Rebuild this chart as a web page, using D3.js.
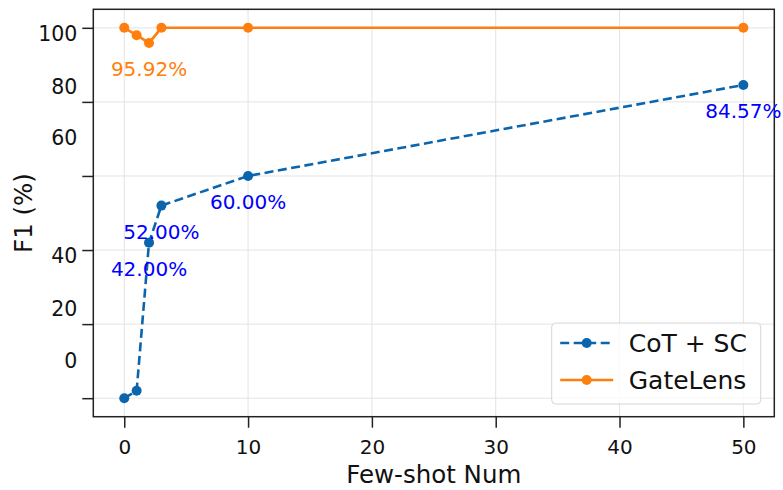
<!DOCTYPE html>
<html>
<head>
<meta charset="utf-8">
<script src="https://cdn.jsdelivr.net/npm/d3@7"></script>
<style>
	body { margin: 0; background: #fff; }
	text { font-family: "DejaVu Sans", sans-serif; }
</style>
</head>
<body>
<div id="f1-chart"></div>
<script>
// x positions (few-shot count)
const fewShot = [0, 1, 2, 3, 10, 50];
// series values, F1 %
const cotSc = [0, 2.0, 42.0, 52.0, 60.0, 84.57];
const gateLens = [100, 98.0, 95.92, 100, 100, 100];
// which points get a text label (index into fewShot)
const cotLabelIdx = [2, 3, 4, 5];
const gateLabelIdx = [2];
const xTicks = [0, 10, 20, 30, 40, 50];
const yTicks = [0, 20, 40, 60, 80, 100];
const yTickLabels = ['0', '20', '40', '60', '80', '100'];

const width = 783, height = 490;
const margin = { top: 9.3, right: 8.7, bottom: 73.3, left: 93.3 };
const innerW = width - margin.left - margin.right;
const innerH = height - margin.top - margin.bottom;

const blue = '#0b65ad', orange = '#ff7f0e';

const svg = d3.select('#f1-chart').append('svg')
	.attr('width', width)
	.attr('height', height);

const g = svg.append('g')
	.attr('transform', `translate(${margin.left},${margin.top})`);

const x = d3.scaleLinear().domain([-2.5, 52.5]).range([0, innerW]);
const y = d3.scaleLinear().domain([-5, 105]).range([innerH, 0]);

// grid
g.append('g').selectAll('line')
	.data(xTicks).enter().append('line')
	.attr('x1', d => x(d)).attr('x2', d => x(d))
	.attr('y1', 0).attr('y2', innerH)
	.attr('stroke', '#e3e3e3').attr('stroke-width', 1);
g.append('g').selectAll('line')
	.data(yTicks).enter().append('line')
	.attr('y1', d => y(d)).attr('y2', d => y(d))
	.attr('x1', 0).attr('x2', innerW)
	.attr('stroke', '#e3e3e3').attr('stroke-width', 1);

// x axis
const xAxis = g.append('g')
	.attr('transform', `translate(0,${innerH})`)
	.call(d3.axisBottom(x).tickValues(xTicks).tickSize(11).tickPadding(12).tickFormat(d3.format('d')));
xAxis.select('.domain').remove();
xAxis.selectAll('line').attr('stroke', '#222').attr('stroke-width', 1.5);
xAxis.selectAll('text').attr('font-size', 20).attr('fill', '#111');

// y axis - labels sit offset from their ticks in the original figure
const labelShift = [-31, -8.5, 12.5];
const yAxis = g.append('g')
	.call(d3.axisLeft(y).tickValues(yTicks).tickSize(11).tickPadding(5)
		.tickFormat((d, i) => yTickLabels[i]));
yAxis.select('.domain').remove();
yAxis.selectAll('line').attr('stroke', '#222').attr('stroke-width', 1.5);
yAxis.selectAll('text')
	.attr('font-size', 20.5).attr('fill', '#111')
	.attr('dy', (d, i) => labelShift[i % 3] + 'px');

// frame
g.append('rect')
	.attr('width', innerW).attr('height', innerH)
	.attr('fill', 'none').attr('stroke', '#222').attr('stroke-width', 1.5);

const line = d3.line().x((d, i) => x(fewShot[i])).y(d => y(d));

function drawSeries(vals, color, dash) {
	g.append('path')
		.datum(vals)
		.attr('d', line)
		.attr('fill', 'none')
		.attr('stroke', color)
		.attr('stroke-width', 2.6)
		.attr('stroke-dasharray', dash);
	g.append('g').selectAll('circle')
		.data(vals).enter().append('circle')
		.attr('cx', (d, i) => x(fewShot[i]))
		.attr('cy', d => y(d))
		.attr('r', 5)
		.attr('fill', color);
}

drawSeries(cotSc, blue, '9,4.5');
drawSeries(gateLens, orange, null);

// point labels
function pointLabels(vals, idx, color) {
	g.append('g').selectAll('text')
		.data(idx).enter().append('text')
		.attr('x', i => x(fewShot[i]))
		.attr('y', i => y(vals[i]) + 33)
		.attr('text-anchor', 'middle')
		.attr('font-size', 20)
		.attr('fill', color)
		.text(i => vals[i].toFixed(2) + '%');
}
pointLabels(cotSc, cotLabelIdx, '#0000ff');
pointLabels(gateLens, gateLabelIdx, orange);

// axis titles
svg.append('text')
	.attr('x', margin.left + innerW / 2)
	.attr('y', 483)
	.attr('text-anchor', 'middle')
	.attr('font-size', 24.5)
	.attr('fill', '#111')
	.text('Few-shot Num');
svg.append('text')
	.attr('transform', `translate(32,${margin.top + innerH / 2}) rotate(-90)`)
	.attr('text-anchor', 'middle')
	.attr('font-size', 24.5)
	.attr('fill', '#111')
	.text('F1 (%)');

// legend
const legend = svg.append('g').attr('transform', 'translate(551.7,323)');
legend.append('rect')
	.attr('width', 209).attr('height', 81)
	.attr('rx', 4)
	.attr('fill', 'rgba(255,255,255,0.8)')
	.attr('stroke', '#d6d6d6').attr('stroke-width', 1);
const items = [
	{ name: 'CoT + SC', color: blue, dash: '9,4.5' },
	{ name: 'GateLens', color: orange, dash: null }
];
items.forEach((it, i) => {
	const row = legend.append('g').attr('transform', `translate(0,${20 + i * 37})`);
	row.append('line')
		.attr('x1', 8.5).attr('x2', 61.5)
		.attr('stroke', it.color).attr('stroke-width', 2.6)
		.attr('stroke-dasharray', it.dash);
	row.append('circle').attr('cx', 35).attr('r', 5).attr('fill', it.color);
	row.append('text')
		.attr('x', 77).attr('y', 9)
		.attr('font-size', 25)
		.attr('fill', '#111')
		.text(it.name);
});
</script>
</body>
</html>
